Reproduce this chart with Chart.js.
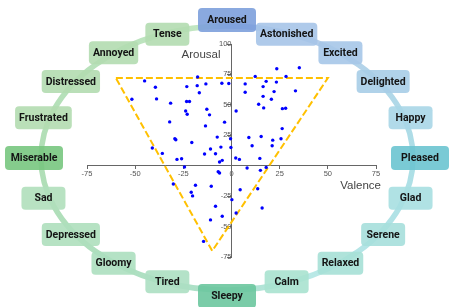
<!DOCTYPE html>
<html>
<head>
<meta charset="utf-8">
<script src="https://cdn.jsdelivr.net/npm/chart.js@4/dist/chart.umd.min.js"></script>
<style>
  html, body { margin: 0; padding: 0; background: #fff; }
</style>
</head>
<body>
<canvas id="chart" width="452" height="307"></canvas>
<script>
// --- Data ---
const emotions = ['Aroused', 'Astonished', 'Excited', 'Delighted', 'Happy', 'Pleased', 'Glad', 'Serene', 'Relaxed', 'Calm',
                  'Sleepy', 'Tired', 'Gloomy', 'Depressed', 'Sad', 'Miserable', 'Frustrated', 'Distressed', 'Annoyed', 'Tense'];

const xTicks = [-75, -50, -25, 0, 25, 50, 75];
const yTicks = [-75, -50, -25, 0, 25, 50, 75, 100];

const valence = [
  -45.1, -39.5, -51.7, -38.9, -31.6, -23.2, -17.6, -17.8, -13.3, -16.7, -5.0, -1.4, -23.3, -21.8, -23.8, -23.0, -12.8, -11.4,
  -32.1, -13.5, -3.6, -29.4, -28.9, -20.6, -7.4, -0.5, -41.1, -35.9, -14.0, -10.9, -8.3, -5.5, -28.3, -25.9, -6.2, -4.8,
  23.5, 35.2, 12.3, 28.3, 7.1, 18.0, 23.3, 16.4, 7.1, 22.1, 33.2, 16.4, 20.7, 14.1, 16.7, 26.4, 28.1, 2.4,
  26.3, 9.0, 15.4, 21.4, 25.7, 10.7, 21.1, -0.3, 2.2, 4.1, 14.7,
  -24.4, -6.9, -6.2, -30.2, -18.7, -10.5, -20.9, -20.2, -8.3, -4.8, -10.9, -14.5,
  8.1, 15.0, 18.0, 0.2, 4.5, 13.6, 2.4, 15.9
];
const arousal = [
  69.7, 64.5, 54.6, 54.9, 51.4, 65.0, 72.9, 65.8, 67.2, 60.0, 67.8, 67.5, 52.7, 52.7, 45.0, 42.3, 46.4, 41.8,
  36.0, 32.7, 35.8, 22.1, 21.3, 19.1, 23.5, 22.1, 14.5, 10.1, 9.6, 13.7, 9.8, 15.3, 5.2, 5.7, 3.0, 4.4,
  79.7, 80.5, 73.4, 73.4, 67.2, 69.3, 68.7, 65.0, 60.3, 60.9, 61.5, 57.0, 54.6, 50.5, 47.5, 46.9, 47.2, 45.0,
  30.5, 23.2, 24.0, 21.0, 22.1, 16.4, 16.4, 15.0, 6.3, 5.2, 6.0,
  -1.1, -4.9, -6.0, -15.0, -16.1, -16.9, -21.8, -24.8, -33.3, -41.5, -44.5, -62.2,
  -1.9, -3.8, -1.4, -27.9, -19.7, -18.9, -38.8, -34.7
];

// dashed triangle
const triValence = [-60, 50, -10, -60];
const triArousal = [72, 72, -70, 72];

// --- Styles for the emotion ring ---
const emotionFill = ['#7da0dc', '#a6c4e8', '#a6c6e8', '#a7cde7', '#a8d6e7', '#6cc4d0', '#a7dfe1', '#a6dfdb', '#a6e0d6', '#a8e2cf',
                     '#6cc79f', '#acdfc2', '#acdfbf', '#aedfbd', '#b0dfbb', '#78c680', '#b2dcb0', '#b2dcb0', '#b2dcb0', '#b2dcb0'];

function roundRect(ctx, x, y, w, h, r) {
  ctx.beginPath();
  ctx.moveTo(x + r, y);
  ctx.lineTo(x + w - r, y);
  ctx.quadraticCurveTo(x + w, y, x + w, y + r);
  ctx.lineTo(x + w, y + h - r);
  ctx.quadraticCurveTo(x + w, y + h, x + w - r, y + h);
  ctx.lineTo(x + r, y + h);
  ctx.quadraticCurveTo(x, y + h, x, y + h - r);
  ctx.lineTo(x, y + r);
  ctx.quadraticCurveTo(x, y, x + r, y);
  ctx.closePath();
}

// ring of emotion labels around the plot
const ringPlugin = {
  id: 'emotionRing',
  beforeDraw(chart) {
    const ctx = chart.ctx;
    const cx = chart.width / 2 + 1, cy = chart.height / 2 + 4.5;
    ctx.save();
    ctx.fillStyle = '#fff';
    ctx.fillRect(0, 0, chart.width, chart.height);

    // the ring line
    const grad = ctx.createConicGradient(-Math.PI / 2, cx, cy);
    grad.addColorStop(0, 'rgba(80,130,210,0.6)');
    grad.addColorStop(0.12, 'rgba(110,160,215,0.5)');
    grad.addColorStop(0.25, 'rgba(90,190,205,0.5)');
    grad.addColorStop(0.4, 'rgba(100,205,200,0.45)');
    grad.addColorStop(0.5, 'rgba(90,195,150,0.5)');
    grad.addColorStop(0.75, 'rgba(100,190,110,0.5)');
    grad.addColorStop(0.98, 'rgba(120,200,120,0.45)');
    grad.addColorStop(1, 'rgba(80,130,210,0.6)');
    ctx.strokeStyle = grad;
    ctx.lineWidth = 5.5;
    ctx.beginPath();
    ctx.ellipse(cx, cy, 186, 132, 0, 0, Math.PI * 2);
    ctx.stroke();

    // label boxes
    ctx.font = 'bold 10.5px Roboto';
    ctx.textAlign = 'center';
    ctx.textBaseline = 'middle';
    emotions.forEach((name, i) => {
      const a = (-90 + 18 * i) * Math.PI / 180;
      const pole = i % 5 === 0;
      let x = cx + 193 * Math.cos(a);
      let y = cy + 130 * Math.sin(a);
      if (i === 0) y -= 8;
      if (i === 10) y += 8;
      const tw = ctx.measureText(name).width;
      const w = Math.max(pole ? 58 : 44, tw + 8);
      const h = pole ? 24 : 23;
      ctx.globalAlpha = 0.9;
      ctx.fillStyle = emotionFill[i];
      roundRect(ctx, x - w / 2, y - h / 2, w, h, 4);
      ctx.fill();
      ctx.globalAlpha = 1;
      ctx.fillStyle = '#141414';
      ctx.fillText(name, x, y + 0.5);
    });
    ctx.restore();
  },
  afterDraw(chart) {
    const ctx = chart.ctx;
    const xs = chart.scales.x, ys = chart.scales.y, area = chart.chartArea;
    ctx.save();
    ctx.font = '11.5px "Liberation Sans"';
    ctx.fillStyle = '#444';
    ctx.textAlign = 'right';
    ctx.textBaseline = 'middle';
    ctx.fillText('Arousal', xs.getPixelForValue(0) - 11, area.top + 11);
    ctx.fillText('Valence', area.right + 5, ys.getPixelForValue(0) + 20);
    ctx.restore();
  }
};

const tickFont = { family: 'Liberation Sans', size: 7.5 };

new Chart(document.getElementById('chart'), {
  type: 'scatter',
  data: {
    datasets: [
      {
        data: valence.map((v, i) => ({ x: v, y: arousal[i] })),
        backgroundColor: '#0000ff',
        borderWidth: 0,
        pointRadius: 1.7,
        order: 0
      },
      {
        type: 'line',
        data: triValence.map((v, i) => ({ x: v, y: triArousal[i] })),
        borderColor: '#ffc000',
        borderWidth: 2,
        borderDash: [7, 3],
        pointRadius: 0,
        fill: false,
        tension: 0,
        order: 1
      }
    ]
  },
  options: {
    responsive: false,
    animation: false,
    layout: { padding: { left: 87, right: 76, top: 44, bottom: 50 } },
    plugins: { legend: { display: false }, tooltip: { enabled: false } },
    scales: {
      x: {
        type: 'linear',
        position: { y: 0 },
        min: -75, max: 75,
        afterBuildTicks: s => { s.ticks = xTicks.map(v => ({ value: v })); },
        grid: { drawOnChartArea: false, tickLength: 3, color: '#666' },
        border: { color: '#666' },
        ticks: { font: tickFont, color: '#555', padding: 1, maxRotation: 0, autoSkip: false }
      },
      y: {
        type: 'linear',
        position: { x: 0 },
        min: -75, max: 100,
        afterBuildTicks: s => { s.ticks = yTicks.map(v => ({ value: v })); },
        grid: { drawOnChartArea: false, tickLength: 4, color: '#666' },
        border: { color: '#666' },
        ticks: { font: tickFont, color: '#555', padding: 1, autoSkip: false, callback: v => v === 0 ? '' : v }
      }
    }
  },
  plugins: [ringPlugin]
});
</script>
</body>
</html>
